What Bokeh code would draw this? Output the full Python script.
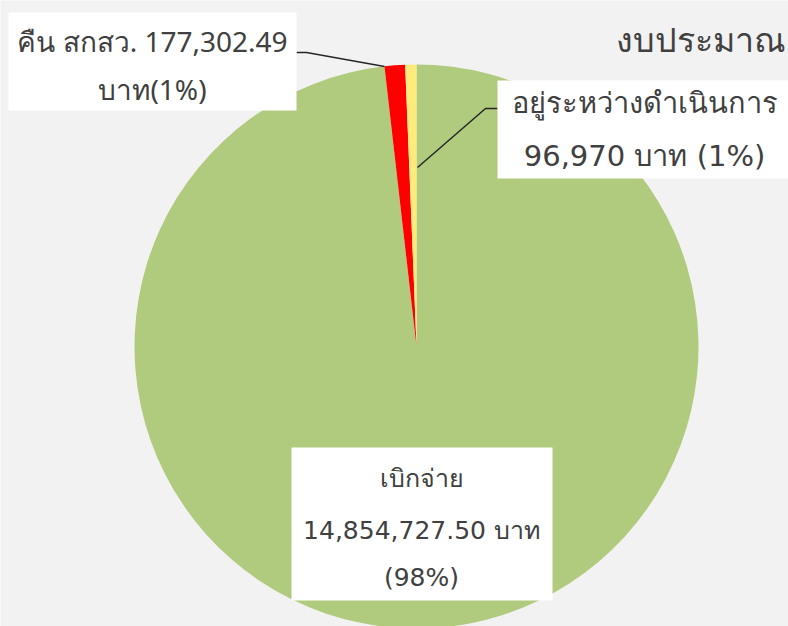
from bokeh.plotting import figure
from bokeh.models import Range1d, ColumnDataSource
from bokeh.core.properties import value
from bokeh.embed import file_html
from bokeh.resources import INLINE
import math

# ---- data ----
categories = ["เบิกจ่าย", "คืน สกสว.", "อยู่ระหว่างดำเนินการ"]
amounts = [14854727.50, 177302.49, 96970.0]
colors = ["#b0cb7e", "#ff0000", "#ffeb7b"]
label_lines = [
    ["เบิกจ่าย", "14,854,727.50 บาท", "(98%)"],
    ["คืน สกสว. 177,302.49", "บาท(1%)"],
    ["อยู่ระหว่างดำเนินการ", "96,970 บาท (1%)"],
]
title_text = "งบประมาณ"

W, H = 788, 626
p = figure(width=W, height=H, output_backend="svg", toolbar_location=None,
           x_range=Range1d(0, W), y_range=Range1d(0, H), min_border=0)
p.axis.visible = False
p.grid.visible = False
p.outline_line_color = None
p.background_fill_color = "#f2f2f2"
p.border_fill_color = "#f2f2f2"

def Y(y):
    return H - y

# pie
cx, cy, r = 416, Y(346), 282
total = sum(amounts)
starts, ends = [], []
acc = 0.0
for a in amounts:
    s = math.pi / 2 - acc / total * 2 * math.pi
    acc += a
    e = math.pi / 2 - acc / total * 2 * math.pi
    starts.append(s)
    ends.append(e)
src = ColumnDataSource(dict(start=starts, end=ends, color=colors))
p.wedge(x=cx, y=cy, radius=r, start_angle="start", end_angle="end",
        direction="clock", fill_color="color", line_color=None, source=src)

# leader lines
p.line([296, 306, 384], [Y(52), Y(52), Y(66)], line_color="#262626", line_width=1.5)
p.line([497, 485, 417], [Y(108), Y(108), Y(167)], line_color="#262626", line_width=1.5)

# label boxes (left, right, top, bottom in screen px)
boxes = [(291, 552, 447, 600), (8, 296, 12, 110), (497, 800, 80, 178)]
line_ys = [[478, 530, 577], [40, 88], [102, 155]]
centers = [421, 152, 644]
fonts = ["DejaVu Sans", "Noto Sans", "DejaVu Sans"]
sizes = ["25px", "28px", "29px"]
for i in range(3):
    l, rr, t, b = boxes[i]
    p.quad(left=l, right=rr, top=Y(t), bottom=Y(b), fill_color="white", line_color=None)
    for txt, ly in zip(label_lines[i], line_ys[i]):
        p.text(x=[centers[i]], y=[Y(ly)], text=[txt], text_align="center",
               text_baseline="middle", text_font=value(fonts[i]),
               text_font_size=sizes[i], text_color="#404040")

p.text(x=[785], y=[Y(38)], text=[title_text], text_align="right",
       text_baseline="middle", text_font=value("Noto Sans"),
       text_font_size="34px", text_color="#404040")

open("out.html", "w").write(file_html(p, INLINE))
